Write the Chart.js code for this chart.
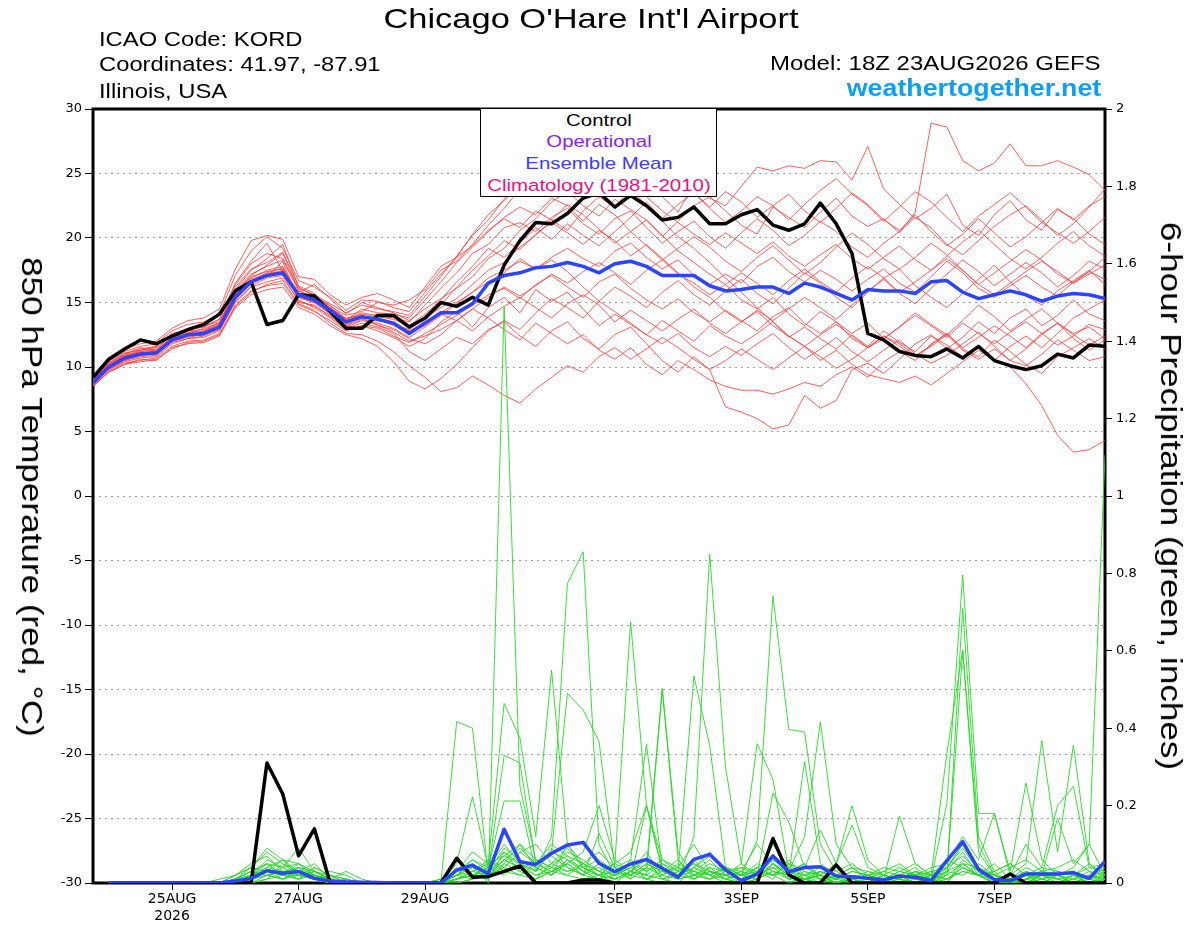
<!DOCTYPE html>
<html>
<head>
<meta charset="utf-8">
<script src="https://cdn.jsdelivr.net/npm/chart.js@4.4.1/dist/chart.umd.min.js"></script>
<style>
html, body { margin: 0; padding: 0; background: #fff; }
#wrap { position: relative; width: 1200px; height: 927px; overflow: hidden; }
#chart { position: absolute; left: 0; top: 0; }
.txt { position: absolute; white-space: nowrap; line-height: 1; color: #000;
       font-family: "Liberation Sans", Arial, sans-serif; }
#title { left: 591px; top: 5px; font-size: 28px; transform: translateX(-50%) scaleX(1.23); }
.hl { left: 99px; font-size: 20.5px; transform: scaleX(1.16); transform-origin: 0 0; }
.hr { right: 99px; transform-origin: 100% 0; }
#model { top: 53.3px; font-size: 20.5px; transform: scaleX(1.17); }
#site { top: 76.8px; font-size: 23.5px; font-weight: bold; color: #0aa0f6; transform: scaleX(1.14); }
#legend { position: absolute; left: 480px; top: 108px; width: 235px; height: 87px;
          border: 1.5px solid #000; background: #fff; }
.lg { left: 599px; font-size: 17px; transform: translateX(-50%) scaleX(1.2); }
.ax { font-size: 30px; transform: translate(-50%, -50%) rotate(90deg) scaleX(1.17); }
</style>
</head>
<body>
<div id="wrap">
  <canvas id="chart" width="1200" height="927"></canvas>
  <div class="txt" id="title">Chicago O'Hare Int'l Airport</div>
  <div class="txt hl" style="top:28.6px">ICAO Code: KORD</div>
  <div class="txt hl" style="top:53.6px">Coordinates: 41.97, -87.91</div>
  <div class="txt hl" style="top:80.6px">Illinois, USA</div>
  <div class="txt hr" id="model">Model: 18Z 23AUG2026 GEFS</div>
  <div class="txt hr" id="site">weathertogether.net</div>
  <div id="legend"></div>
  <div class="txt lg" style="top:112.3px">Control</div>
  <div class="txt lg" style="top:133.3px;color:#8a22e6">Operational</div>
  <div class="txt lg" style="top:154.9px;color:#3a3cff">Ensemble Mean</div>
  <div class="txt lg" style="top:177.3px;color:#e8137f">Climatology (1981-2010)</div>
  <div class="txt ax" style="left:32px;top:497px">850 hPa Temperature (red, °C)</div>
  <div class="txt ax" style="left:1171px;top:496px">6-hour Precipitation (green, inches)</div>
</div>
<script>
// forecast hours from 18Z 23AUG2026
const hours = [0,6,12,18,24,30,36,42,48,54,60,66,72,78,84,90,96,102,108,114,120,126,132,138,144,150,156,162,168,174,180,186,192,198,204,210,216,222,228,234,240,246,252,258,264,270,276,282,288,294,300,306,312,318,324,330,336,342,348,354,360,366,372,378,384];

const tickHours = [30, 78, 126, 198, 246, 294, 342];
const tickLabels = [['25AUG', '2026'], '27AUG', '29AUG', '1SEP', '3SEP', '5SEP', '7SEP'];

const tempTicks = [-30, -25, -20, -15, -10, -5, 0, 5, 10, 15, 20, 25, 30];

// 850 hPa temperature (C)
const controlTemp = [9.2,10.6,11.4,12.1,11.8,12.4,12.9,13.3,14.1,15.9,16.6,
  13.3,13.6,15.6,15.5,14.3,13.0,13.0,14.0,14.0,13.1,
  13.8,15.0,14.7,15.4,14.8,17.9,19.8,21.2,21.1,21.9,
  23.1,23.5,22.4,23.3,22.5,21.4,21.6,22.4,21.1,21.1,
  21.8,22.2,21.0,20.6,21.1,22.7,21.1,18.8,12.6,12.1,
  11.2,10.9,10.8,11.4,10.7,11.6,10.5,10.1,9.8,10.1,
  11.0,10.7,11.7,11.6];

const meanTemp = [8.8,10.0,10.7,11.0,11.1,12.1,12.5,12.6,13.1,15.4,16.6,
  17.1,17.3,15.6,15.2,14.4,13.5,13.9,13.7,13.4,12.6,
  13.4,14.2,14.2,14.9,16.5,17.1,17.3,17.7,17.8,18.1,
  17.8,17.3,18.0,18.2,17.8,17.1,17.1,17.1,16.3,15.9,
  16.0,16.2,16.2,15.7,16.5,16.2,15.7,15.2,16.0,15.9,
  15.9,15.7,16.6,16.7,15.8,15.3,15.6,15.9,15.6,15.1,
  15.5,15.7,15.6,15.3];

const tempMembers = [
  [9,10.2,11,11.5,11.3,12.3,12.6,13,13.4,16,17.5,18.4,19.5,16.2,15.5,14.7,14,14.3,15,14.8,15.2,
   16,17.5,18.2,19.5,21,22.3,23.8,24.6,24,25.2,24.4,23.5,25,24.1,25.3,23.2,22,24.2,23.1,22.5,
   24,25.5,25.2,25.6,25.4,26,25.9,24.5,27.1,23.8,22.6,21.5,22.3,23.4,21,20.2,21.8,22.9,21.4,20.6,22.2,21.5,20.3,19.5],
  [8.9,10.1,10.8,11.2,11.4,12.5,12.9,13.1,13.7,16.5,18.2,19.6,17.4,15.8,16.4,15.3,14.1,15,14.6,14.2,13.6,
   14.5,15.3,16.1,17,18.4,19.2,20.6,21.5,22.8,23.6,22.5,21.7,23,22.2,21.4,20.1,21.3,22.5,23.2,22.1,
   21,20.3,22.4,21.6,20.8,22,23.1,21.7,20.9,21.5,20.4,22,28.9,28.6,26,25.2,25.8,27.3,25.6,25.6,26,25.5,24.9,23.7],
  [8.6,9.8,10.4,10.7,10.8,11.8,12.2,12.4,12.9,15,16.2,16.6,16.9,15.2,14.6,13.8,12.9,13.2,12.8,12.3,11.6,
   12.2,13.5,14.3,13.1,14.6,15.4,14.2,16,15.1,15.8,14.5,13.2,14.1,13.3,12.5,13.6,12.8,12,13.2,12.4,
   11.8,12.6,13.5,12.3,13.1,12.2,11.4,12.5,11.6,12.8,11.9,11.2,12.4,11.7,10.8,11.5,10.6,10,8.7,7,4.7,3.4,3.6,4.3],
  [8.8,9.9,10.5,10.9,11,12,12.4,12.6,13,15.2,16.5,17,18.2,15,14.8,13.9,13,13.4,13.1,12.6,11.2,
   10.5,11.4,12.3,11.8,12.9,13.5,12.4,11.6,12.8,13.5,12.2,11.4,12.5,13.1,11.8,10.5,9.6,10.8,9.8,6.9,
   6.5,6,5.2,5.5,7.8,6.8,7.4,9.8,10.3,9.5,10.6,11.8,12.5,11.4,12.3,13.5,12.6,13.8,14.5,13.2,14,15.2,14.1,13.6],
  [9.1,10.3,11.1,11.3,11.6,12.6,12.9,13.2,13.5,15.8,17.1,17.9,18.8,16,15.1,14.2,13.3,13.8,13.2,12.9,12.2,
   11.8,12.5,13.6,14.5,13.8,12.9,12.1,13.4,12.6,11.8,12.5,11.3,10.6,11.5,10.2,9.4,10.5,9.8,9,8.5,
   8.2,8.2,7.9,8.3,8.8,8.5,9.4,10,9.2,10.4,11.2,10.5,11.8,12.6,11.4,10.8,12.1,11.2,10.2,9.5,10.8,11.5,12.2,11.4],
  [8.7,10,10.6,11,11.2,12.2,12.5,12.5,13.2,15.6,16.8,17.2,17.5,15.4,15,14.5,13.8,14,13.6,13.5,12.8,
   13.5,14.2,15,15.8,16.9,17.5,18.2,17.6,18.5,19.2,18.4,17.8,19,19.6,18.5,17.6,18.3,17.1,16.4,17.2,
   16.5,17.8,18.5,17.4,16.6,17.5,16.8,15.9,16.8,17.6,16.5,15.8,17,18.2,17.3,16.1,15.4,16.3,17.1,16.2,15.5,16.6,17.4,16.8],
  [8.9,10,10.8,11.1,11,12.1,12.4,12.8,13.3,15.9,17.2,17.8,18.3,15.9,15.4,14.8,13.7,14.2,14,13.8,13.5,
   14.8,16.1,17.3,18.8,19.5,20.8,21.2,20.5,21.6,22.3,21.1,20.3,21.5,22.1,20.8,19.6,20.5,21.3,20.1,19.2,
   20.4,21.5,20.6,19.4,20.2,21.3,20.5,19.3,18.5,19.6,20.5,21.6,20.8,19.5,18.7,19.8,20.9,21.8,22.5,21.4,20.2,21.1,22.4,23.8],
  [8.5,9.7,10.3,10.5,10.7,11.6,12,12.1,12.6,14.8,15.9,16.3,16.5,14.8,14.3,13.6,12.8,13.2,13,12.4,11.9,
   12.6,13.3,14,14.8,15.6,16.1,15.3,16.4,17.1,16.2,15.4,16.6,17.2,16.1,15.2,14.5,15.3,14.2,13.5,14.4,
   13.6,12.8,13.9,14.6,13.4,12.6,13.5,12.2,11.5,12.4,11.8,10.9,11.6,12.5,11.3,10.6,11.4,10.5,10.1,11,12.1,11.3,10.5,10.8],
  [9,10.1,10.9,11.3,11.5,12.4,12.8,12.9,13.4,16.2,17.6,18.1,18.9,16.3,15.7,14.6,13.6,14.5,14.2,14.1,13.8,
   15.2,16.6,18.1,19.3,20.5,21.6,22.4,21.8,23.1,22.5,21.3,22.6,21.8,20.5,21.4,20.2,19,18.1,17.2,16.4,
   15.2,14.5,15.4,14.1,13.2,14.3,13.5,12.6,13.4,12.2,13.1,14.2,13.3,12.5,13.6,14.8,13.9,12.8,13.7,14.5,13.4,12.6,13.1,12.2],
  [8.6,9.6,10.2,10.6,10.5,11.5,11.8,11.9,12.4,14.6,15.6,16,16.2,14.6,14.1,13.2,12.5,12.2,11.6,10.4,8.9,
   8.3,9.1,10.2,11.5,12.8,13.6,12.9,14.2,15.3,14.6,13.8,15.1,16.2,15.5,14.6,15.8,16.7,15.6,14.8,15.9,
   16.8,15.7,14.9,16.1,17.3,16.5,15.4,14.6,15.8,16.9,17.6,16.3,15.4,14.6,15.7,16.8,17.9,16.6,15.5,14.8,15.9,16.7,17.5,16.4],
  [9.2,10.4,11.2,11.6,11.8,12.8,13.3,13.5,14.1,17.1,19,20.1,19.2,16.7,16.2,15.4,14.4,15.2,15.1,14.6,14.3,
   15.8,17.2,18.5,20.3,21.8,22.9,24.1,25.3,24.6,25.8,24.9,26.2,25.4,24.3,25.1,23.8,24.6,23.5,22.4,23.6,
   22.8,21.6,22.5,23.4,22.1,21.2,22.3,23.5,22.6,21.4,20.6,21.8,20.5,19.4,20.3,21.5,20.4,19.3,20.1,21.2,22.3,21.4,22.5,23.2],
  [8.7,9.8,10.5,10.8,10.9,11.9,12.2,12.3,12.8,15.1,16.3,16.9,17.1,15.1,14.7,14,13.1,13.6,13.3,12.7,12,
   12.4,12.9,13.6,12.8,13.9,14.7,15.4,14.6,13.8,14.9,15.6,14.8,13.5,14.4,13.6,12.8,13.7,14.5,13.4,12.6,
   13.5,14.3,13.2,12.4,11.6,12.5,13.3,12.4,11.5,12.2,13.1,14,13.2,12.3,13.4,12.6,11.8,12.7,13.5,12.6,11.7,12.4,13.3,12.9],
  [8.8,10,10.7,11.1,11.2,12.1,12.6,12.7,13.1,15.5,16.9,17.5,17.8,15.6,15.2,14.3,13.4,13.9,13.8,13.3,12.9,
   13.8,14.6,15.3,16.4,17.5,18.1,19.3,20.2,21.4,20.6,22.1,23.2,22.4,23.8,22.5,21.3,20.1,19.2,18.1,16.9,
   15.8,14.6,13.5,12.4,11.6,10.5,11.3,10.2,9.4,9.1,8.8,9.3,8.6,9.5,10.4,11.3,10.5,11.6,12.4,11.5,12.6,13.8,14.5,15.2],
  [9,10.2,10.9,11.2,11.3,12.3,12.7,12.8,13.3,15.7,17,17.4,17.6,15.7,15.3,14.6,13.7,14.1,13.9,13.7,13.2,
   14.1,15.2,16.6,17.8,19.2,18.5,19.6,20.8,19.9,21.1,20.2,19.4,20.5,21.6,22.8,21.5,22.6,23.5,22.3,21.2,
   22.1,23.2,22.5,21.4,22.6,23.7,24.6,23.4,22.5,21.3,22.4,23.6,22.8,21.6,20.5,21.7,22.6,23.5,22.4,21.2,20.4,19.6,20.5,21.6],
  [8.6,9.9,10.6,10.9,11.1,12,12.3,12.5,13,15.3,16.6,17.1,17.2,15.5,15,14.1,13.2,13.7,13.4,13,12.3,
   13.1,14,14.9,15.8,16.6,17.3,18.4,17.6,18.3,17.4,16.2,15.1,14.3,13.4,12.5,11.8,12.6,11.5,10.8,11.6,
   10.9,11.8,12.6,11.5,10.6,11.4,12.3,11.2,10.4,11.3,12.1,11,10.3,10.9,11.8,12.7,11.6,10.5,11.4,12.5,13.4,12.2,11.3,12.1],
  [8.5,9.6,10.2,10.4,10.6,11.4,11.9,12,12.5,14.7,15.8,16.4,16.7,14.9,14.4,13.4,12.6,12.5,12,11.2,10.1,
   9.2,8.1,8.4,9.3,8.6,7.8,7.2,8.3,9.2,10.1,9.6,10.8,11.5,10.6,11.4,12.3,11.5,10.6,9.8,10.5,
   11.4,10.6,9.8,10.7,11.6,10.8,9.9,10.6,11.5,12.4,11.6,10.8,11.7,12.6,11.5,12.3,13.2,12.4,11.5,12.6,13.4,12.5,11.7,12.4],
  [9.1,10.3,11,11.4,11.6,12.5,12.9,13.1,13.7,16.4,18,18.8,18.4,16.1,15.6,14.9,14.2,14.8,14.5,14.3,14,
   15.5,17,18.6,20.2,21.4,23,24.3,23.6,25.2,24.5,25.6,24.8,23.6,24.4,23.2,22.1,21.2,20.3,19.5,20.4,
   19.6,18.8,19.7,18.6,17.8,18.7,19.5,18.4,17.6,18.5,19.4,18.3,17.5,18.6,19.7,20.6,19.5,18.4,17.6,18.5,19.6,20.5,19.4,18.6],
  [8.9,10.1,10.8,11.1,11.2,12.2,12.5,12.7,13.2,15.5,16.7,17.1,17.3,15.5,15.1,14.3,13.5,13.9,13.6,13.4,12.7,
   13.2,14.1,13.6,14.5,15.4,16.2,15.5,16.3,17.2,16.5,17.4,18.1,17.3,16.4,17.5,18.3,17.2,16.5,15.6,16.4,
   17.3,16.5,15.6,16.7,17.6,16.6,15.8,16.9,17.8,16.9,15.8,16.6,17.5,18.4,17.5,16.4,15.6,16.5,17.4,18.2,17.4,16.5,17.2,17.9],
  [8.7,9.9,10.6,10.9,11,12,12.4,12.5,13,15.4,16.7,17.3,17.7,15.4,15,14.2,13.4,13.8,13.7,13.2,12.6,
   13.6,14.8,16.2,17.5,18.6,19.8,19.1,20.3,21.2,20.4,19.5,20.6,19.8,18.6,19.5,18.4,17.3,16.2,15.4,14.3,
   13.5,14.4,13.6,14.5,15.4,14.6,13.7,14.8,15.9,16.8,15.7,14.9,16.1,17.2,18.3,17.4,16.3,17.2,18.1,17.3,16.2,17.1,18.2,17.6],
  [9.3,10.6,11.4,11.8,12,13,13.6,13.8,14.5,17.6,19.8,20.2,19.9,17,16.8,15.6,14.8,15.4,15.7,15.2,14.6,
   16.2,17.8,18.5,19.4,20.6,21.5,20.8,22.1,21.4,22.6,21.8,20.7,19.6,20.5,19.4,18.3,19.2,20.1,19.3,18.2,
   17.4,18.5,19.4,18.3,17.2,18.1,19.3,20.4,19.5,18.4,17.6,18.5,19.6,18.7,17.5,16.4,17.3,18.2,19.1,18.3,17.2,16.5,17.4,18.5]
];

// 6-hour precipitation (inches); no value at the initial time
const controlPrecip = [null,0,0,0,0,0,0,0,0,0,0,
  0.31,0.23,0.07,0.14,0,0,0,0,0,0,
  0,0,0.064,0.015,0.017,0.03,0.044,0,0,0,
  0.008,0.008,0,0,0,0,0,0,0,0,
  0,0,0.115,0.021,0,0,0.047,0,0,0,
  0,0,0,0,0,0,0,0.023,0,0,
  0,0,0,0];

const meanPrecip = [null,0,0,0,0,0,0,0,0,0.005,0.012,
  0.032,0.025,0.03,0.012,0.005,0.003,0.002,0.001,0,0,
  0,0,0.033,0.046,0.024,0.139,0.055,0.048,0.077,0.098,
  0.105,0.051,0.029,0.049,0.061,0.038,0.015,0.061,0.074,0.034,
  0.006,0.023,0.07,0.029,0.04,0.042,0.018,0.016,0.012,0.008,
  0.018,0.015,0.006,0.058,0.107,0.035,0.009,0.006,0.023,0.023,
  0.023,0.027,0.012,0.056];

const precipMembers = [
  [null,0,0,0,0,0,0,0,0,0.01,0.03, 0.05,0.02,0.04,0.01,0,0,0,0,0,0, 0,0,0.02,0.05,0,1.49,0.25,0.06,0.02,0.1,
   0.05,0.02,0,0.03,0.06,0.01,0,0.04,0.08,0.02, 0,0.01,0.1,0.04,0.02,0,0,0.01,0,0, 0,0.03,0.01,0,0.05,0.02,0,0,0.01,0.03, 0.02,0,0,0.01],
  [null,0,0,0,0,0,0,0,0,0,0.02, 0.04,0.06,0.03,0.02,0.01,0,0,0,0,0, 0,0,0.04,0.02,0.01,0.08,0.05,0.03,0.12,0.774,
   0.856,0.1,0.02,0.05,0.01,0,0.03,0.06,0.02,0, 0,0.02,0.05,0.01,0,0.03,0.01,0,0,0.01, 0.02,0,0,0.01,0.04,0.02,0,0,0,0.01, 0,0.02,0,0],
  [null,0,0,0,0,0,0,0,0,0.01,0.02, 0.03,0.01,0.02,0.03,0.01,0,0,0,0,0, 0,0,0,0.01,0.06,0.03,0.02,0.05,0.07,0.04,
   0.02,0.05,0.01,0.03,0.08,0.02,0.01,0.12,0.85,0.3, 0.05,0.02,0.04,0.01,0.03,0.02,0,0,0.01,0, 0,0.01,0.02,0,0.06,0.03,0,0.01,0.02,0, 0,0.01,0.03,0],
  [null,0,0,0,0,0,0,0,0,0,0.01, 0.02,0.04,0.09,0.03,0.01,0,0,0,0,0, 0,0,0.01,0.03,0.02,0.06,0.04,0.01,0.03,0.05,
   0.02,0.01,0.04,0.02,0.01,0.03,0.06,0.02,0.01,0.04, 0.02,0.11,0.742,0.397,0.39,0.1,0.03,0.01,0,0.02, 0.01,0,0,0.03,0.08,0.02,0,0,0.01,0.02, 0.01,0,0.02,0.01],
  [null,0,0,0,0,0,0,0,0,0,0.01, 0.03,0.02,0.05,0.02,0,0.01,0,0,0,0, 0,0,0.01,0.02,0.04,0.08,0.03,0.01,0.05,0.09,
   0.04,0.02,0.05,0.675,0.2,0.04,0.01,0.02,0.03,0.01, 0,0.03,0.02,0.05,0.01,0.02,0,0.01,0.02,0, 0.01,0.03,0,0.02,0.6,0.08,0.02,0,0,0.01, 0.02,0,0.01,0],
  [null,0,0,0,0,0,0,0,0,0.02,0.05, 0.07,0.03,0.01,0.02,0,0,0,0,0,0, 0,0,0.417,0.4,0.02,0.05,0.1,0.04,0.02,0.06,
   0.03,0.01,0.02,0.04,0.02,0.5,0.06,0.01,0.03,0.02, 0.01,0.04,0.02,0,0.01,0.03,0.02,0,0,0.01, 0.03,0.02,0.01,0.04,0.1,0.03,0.01,0,0.02,0.03, 0.01,0.02,0,0.01],
  [null,0,0,0,0,0,0,0,0,0,0, 0.01,0.05,0.02,0.01,0.03,0.02,0,0,0,0, 0,0,0.03,0.08,0.05,0.464,0.374,0.12,0.55,0.1,
   0.04,0.02,0.03,0.05,0.01,0.02,0.04,0.03,0.01,0.02, 0.03,0.01,0.05,0.02,0.01,0,0.02,0.04,0.01,0, 0,0.02,0.01,0.03,0.05,0.02,0,0.01,0,0.02, 0,0.01,0.02,0],
  [null,0,0,0,0,0,0,0,0,0.01,0.03, 0.02,0.01,0.03,0.05,0.01,0,0,0,0,0, 0,0.01,0.02,0.06,0.03,0.33,0.31,0.05,0.08,0.49,
   0.447,0.366,0.04,0.02,0.05,0.03,0.01,0.02,0.04,0.01, 0.02,0.03,0.01,0.06,0.02,0.01,0,0.02,0.01,0, 0.02,0,0.01,0.02,0.71,0.12,0.03,0,0.01,0, 0.02,0.01,0,0.02],
  [null,0,0,0,0,0,0,0,0,0,0.02, 0.04,0.03,0.02,0.01,0.02,0,0,0,0,0, 0,0,0.01,0.02,0.04,0.212,0.212,0.03,0.05,0.07,
   0.03,0.02,0.01,0.06,0.359,0.04,0.02,0.01,0.03,0.02, 0.05,0.36,0.268,0.03,0.01,0.02,0,0.01,0.03,0.02, 0.01,0,0.02,0.01,0.03,0.02,0.05,0.01,0,0.02, 0.03,0.02,0.01,0],
  [null,0,0,0,0,0,0,0,0,0.01,0.02, 0.05,0.04,0.02,0.01,0,0.01,0,0,0,0, 0,0,0.05,0.223,0.04,0.02,0.06,0.03,0.09,0.04,
   0.02,0.05,0.03,0.01,0.04,0.503,0.08,0.02,0.01,0.03, 0.02,0.01,0.05,0.03,0.12,0.417,0.1,0.04,0.01,0, 0.02,0.01,0,0.04,0.1,0.03,0.02,0,0.01,0.03, 0.02,0,0.01,0.02],
  [null,0,0,0,0,0,0,0,0,0,0.01, 0.02,0.03,0.04,0.02,0.01,0,0,0,0,0, 0,0,0.02,0.04,0.01,0.05,0.03,0.06,0.04,0.02,
   0.05,0.03,0.02,0.04,0.06,0.01,0.03,0.535,0.355,0.04, 0.02,0.01,0.03,0.02,0.314,0.05,0.02,0.01,0,0.02, 0.01,0.03,0.02,0.335,0.602,0.1,0.02,0,0.03,0.01, 0,0.02,0.01,0.03],
  [null,0,0,0,0,0,0,0,0,0,0, 0.01,0.02,0.01,0.03,0.01,0,0,0,0,0, 0,0,0.01,0.02,0.03,0.06,0.04,0.02,0.03,0.05,
   0.02,0.128,0.04,0.01,0.2,0.03,0.02,0.05,0.03,0.01, 0.03,0.02,0.232,0.158,0.04,0.137,0.05,0.2,0.06,0.02, 0.04,0.02,0.01,0.206,0.796,0.18,0.18,0.03,0.258,0.06, 0.02,0.04,0.1,0.02],
  [null,0,0,0,0,0,0,0,0,0.01,0.04, 0.03,0.02,0.01,0.04,0.02,0.01,0,0,0,0, 0,0.01,0.03,0.05,0.02,0.04,0.08,0.05,0.03,0.06,
   0.04,0.02,0.05,0.03,0.01,0.04,0.02,0.03,0.06,0.02, 0.01,0.04,0.02,0.03,0.05,0.01,0.02,0.04,0.03,0.01, 0.173,0.05,0.02,0.04,0.09,0.03,0.01,0.02,0.05,0.368, 0.08,0.356,0.05,0.01],
  [null,0,0,0,0,0,0,0,0,0,0.01, 0.03,0.02,0.02,0.01,0,0,0,0,0,0, 0,0,0.02,0.04,0.03,0.07,0.05,0.02,0.04,0.03,
   0.05,0.03,0.01,0.02,0.04,0.02,0.05,0.03,0.02,0.04, 0.02,0.05,0.03,0.01,0.02,0.03,0.01,0.02,0.01,0.03, 0.02,0.01,0.03,0.02,0.05,0.04,0.02,0.01,0.03,0.02, 0.167,0.05,0.1,1.106],
  [null,0,0,0,0,0,0,0,0,0,0.02, 0.06,0.04,0.05,0.03,0.01,0,0,0,0,0, 0,0,0.03,0.06,0.04,0.1,0.05,0.03,0.08,0.06,
   0.03,0.04,0.02,0.05,0.03,0.06,0.04,0.02,0.05,0.03, 0.04,0.02,0.06,0.03,0.02,0.04,0.03,0.05,0.02,0.01, 0.03,0.02,0.04,0.05,0.12,0.06,0.18,0.02,0.1,0.04, 0.2,0.25,0.04,0.05],
  [null,0,0,0,0,0,0,0,0.01,0.02,0.04, 0.08,0.05,0.03,0.02,0.01,0.03,0.01,0,0,0, 0,0,0.02,0.01,0.03,0.09,0.06,0.04,0.02,0.05,
   0.08,0.2,0.06,0.03,0.02,0.05,0.03,0.01,0.04,0.03, 0.01,0.02,0.04,0.03,0.01,0.02,0.05,0.15,0.04,0.02, 0.01,0.03,0.02,0.01,0.04,0.02,0.03,0.05,0.02,0.01, 0.03,0.02,0.05,0.02],
  [null,0,0,0,0,0,0,0,0,0,0, 0.02,0.01,0.03,0.01,0,0,0,0,0,0, 0,0,0,0.01,0.02,0.04,0.02,0.01,0.03,0.02,
   0.01,0.02,0.01,0.03,0.02,0.01,0.02,0.04,0.02,0.01, 0,0.01,0.03,0.02,0.01,0,0.01,0.02,0.01,0, 0.01,0,0.02,0.01,0.03,0.02,0.01,0,0.01,0.02, 0.01,0,0.02,0.01],
  [null,0,0,0,0,0,0,0,0,0.01,0.03, 0.05,0.02,0.04,0.03,0.02,0,0,0,0,0, 0,0,0.02,0.03,0.05,0.07,0.1,0.06,0.04,0.08,
   0.06,0.03,0.05,0.08,0.2,0.06,0.03,0.05,0.02,0.04, 0.03,0.1,0.05,0.02,0.04,0.02,0.01,0.03,0.02,0.01, 0.02,0.04,0.01,0.03,0.02,0.05,0.02,0.01,0.04,0.02, 0.02,0.03,0.01,0.04],
  [null,0,0,0,0,0,0,0,0,0,0.02, 0.03,0.06,0.02,0.04,0.02,0.01,0,0,0,0, 0,0,0.01,0.03,0.06,0.04,0.08,0.1,0.05,0.03,
   0.04,0.06,0.03,0.02,0.05,0.03,0.04,0.1,0.03,0.02, 0.04,0.03,0.02,0.05,0.03,0.01,0.02,0.01,0.02,0.03, 0.05,0.02,0.03,0.04,0.07,0.03,0.02,0.04,0.06,0.03, 0.04,0.06,0.03,0.02],
  [null,0,0,0,0,0,0,0,0,0.02,0.04, 0.09,0.06,0.05,0.02,0.01,0,0,0,0,0, 0,0,0.03,0.05,0.02,0.06,0.09,0.05,0.1,0.07,
   0.05,0.08,0.04,0.06,0.03,0.05,0.02,0.04,0.07,0.03, 0.02,0.04,0.06,0.03,0.05,0.02,0.01,0.03,0.02,0.04, 0.03,0.05,0.02,0.06,0.04,0.02,0.03,0.05,0.02,0.04, 0.03,0.02,0.04,0.03]
];

const tempColor = 'rgba(255, 55, 55, 0.8)';
const precipColor = 'rgba(40, 215, 40, 0.9)';
const meanColor = '#2b45ff';

function points(values) {
	return hours.map((h, i) => ({ x: h, y: values[i] }));
}

function lineSet(label, values, axis, color, width, order) {
	return {
		label: label,
		data: points(values),
		yAxisID: axis,
		borderColor: color,
		borderWidth: width,
		borderJoinStyle: 'round',
		pointRadius: 0,
		fill: false,
		tension: 0,
		order: order
	};
}

// frame is drawn under the lines, like the original
const framePlugin = {
	id: 'framePlugin',
	beforeDatasetsDraw(chart) {
		const { ctx, chartArea: { left, right, top, bottom } } = chart;
		ctx.save();
		ctx.lineWidth = 3;
		ctx.strokeStyle = '#000';
		ctx.strokeRect(left, top, right - left, bottom - top);
		ctx.restore();
	}
};

function meteogramConfig() {
	const canvas = document.getElementById('chart');
	if (!canvas) return;
	const ctx = canvas.getContext('2d');

	const datasets = [
		lineSet('Ensemble Mean', meanTemp, 'y', meanColor, 3.5, 0),
		lineSet('Control', controlTemp, 'y', '#000', 3.5, 1),
		lineSet('Ensemble Mean precip', meanPrecip, 'y1', meanColor, 3.5, 2),
		lineSet('Control precip', controlPrecip, 'y1', '#000', 3.5, 3)
	];
	precipMembers.forEach((m, k) => datasets.push(lineSet('Member ' + (k + 1) + ' precip', m, 'y1', precipColor, 1, 10)));
	tempMembers.forEach((m, k) => datasets.push(lineSet('Member ' + (k + 1), m, 'y', tempColor, 1, 20)));

	Chart.defaults.font.family = '"DejaVu Sans", sans-serif';
	Chart.defaults.color = '#000';

	new Chart(ctx, {
		type: 'line',
		data: { datasets: datasets },
		options: {
			responsive: false,
			animation: false,
			events: [],
			layout: { padding: { top: 109, left: 0, right: 0, bottom: 0 } },
			plugins: {
				legend: { display: false },
				tooltip: { enabled: false },
				title: { display: false }
			},
			scales: {
				x: {
					type: 'linear',
					min: 0,
					max: 384,
					afterFit(scale) { scale.height = 44; },
					afterBuildTicks(scale) { scale.ticks = tickHours.map(v => ({ value: v })); },
					grid: { drawOnChartArea: false, tickLength: 7, tickColor: '#000' },
					border: { display: false },
					ticks: {
						autoSkip: false,
						maxRotation: 0,
						padding: 1,
						font: { size: 14 },
						callback: v => {
							const k = tickHours.indexOf(v);
							return k >= 0 ? tickLabels[k] : '';
						}
					}
				},
				y: {
					position: 'left',
					min: -30,
					max: 30,
					afterFit(scale) { scale.width = 93; },
					afterBuildTicks(scale) { scale.ticks = tempTicks.map(v => ({ value: v })); },
					grid: { color: '#a0a0a0', lineWidth: 1, tickLength: 8, tickColor: '#000' },
					border: { display: false, dash: [2, 4] },
					ticks: {
						padding: 3,
						font: { size: 13 },
						callback: v => String(v)
					}
				},
				y1: {
					position: 'right',
					min: 0,
					max: 2,
					afterFit(scale) { scale.width = 95; },
					grid: { drawOnChartArea: false, tickLength: 7, tickColor: '#000' },
					border: { display: false },
					ticks: {
						stepSize: 0.2,
						padding: 4,
						font: { size: 13 },
						callback: v => String(Math.round(v * 10) / 10)
					}
				}
			}
		},
		plugins: [framePlugin]
	});
}
document.addEventListener('DOMContentLoaded', meteogramConfig);
</script>
</body>
</html>
